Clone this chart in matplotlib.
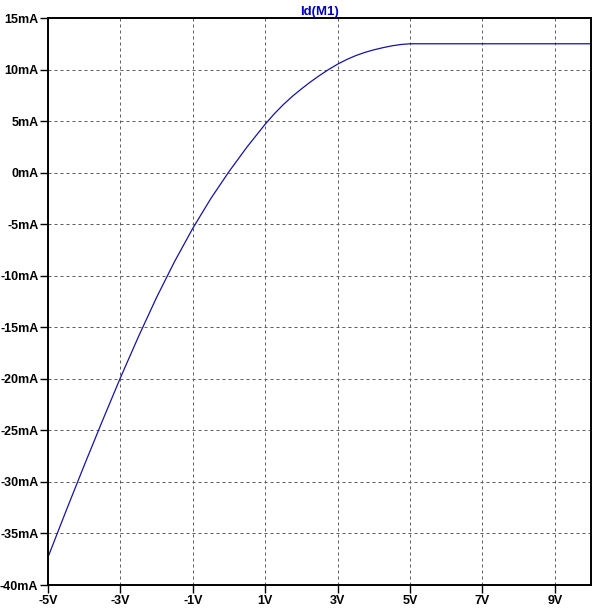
import matplotlib
matplotlib.use("Agg")
import matplotlib.pyplot as plt
from matplotlib.font_manager import FontProperties

# Id(M1), volts vs mA
vsweep = [-5, -4.5, -4, -3.5, -3, -2.5, -2, -1.5, -1, -0.5, 0, 0.5, 1, 1.25, 1.5,
          1.75, 2, 2.25, 2.5, 2.75, 3, 3.25, 3.5, 3.75, 4, 4.25, 4.5, 4.75, 5, 10]
id_ma = [-37.3, -32.8, -28.4, -24.1, -19.9, -15.9, -12.1, -8.6, -5.4, -2.5, 0.1,
         2.5, 4.7, 5.7, 6.6, 7.4, 8.12, 8.8, 9.42, 10.0, 10.52, 10.97, 11.35, 11.66,
         11.91, 12.12, 12.3, 12.43, 12.5, 12.5]

xticks = [-5, -3, -1, 1, 3, 5, 7, 9]
xlabels = ["-5V", "-3V", "-1V", "1V", "3V", "5V", "7V", "9V"]
yticks = list(range(-40, 16, 5))
ylabels = [f"{v}mA" for v in yticks]

W, H = 601, 611
fig = plt.figure(figsize=(W / 100, H / 100), dpi=100)
ax = fig.add_axes([48 / W, (H - 585) / H, (591 - 48) / W, (585 - 18) / H])

ax.plot(vsweep, id_ma, color="#1414a0", lw=0.9)

ax.set_xlim(-5, 10)
ax.set_ylim(-40, 15)
ax.set_xticks(xticks)
ax.set_xticklabels(xlabels)
ax.set_yticks(yticks)
ax.set_yticklabels(ylabels)

fp = FontProperties(family="Liberation Sans", weight="bold", size=9)
for lab in ax.get_xticklabels() + ax.get_yticklabels():
    lab.set_fontproperties(fp)

ax.tick_params(direction="out", length=6, width=1, colors="black", pad=1)
ax.grid(True, color="#606060", linestyle=(0, (3, 3)), linewidth=0.72)
for sp in ax.spines.values():
    sp.set_linewidth(1.4)

ax.set_title("Id(M1)", color="#0000c0", fontfamily="Liberation Sans",
             fontweight="bold", fontsize=9.5, pad=2)

fig.savefig("out.png", dpi=100)
